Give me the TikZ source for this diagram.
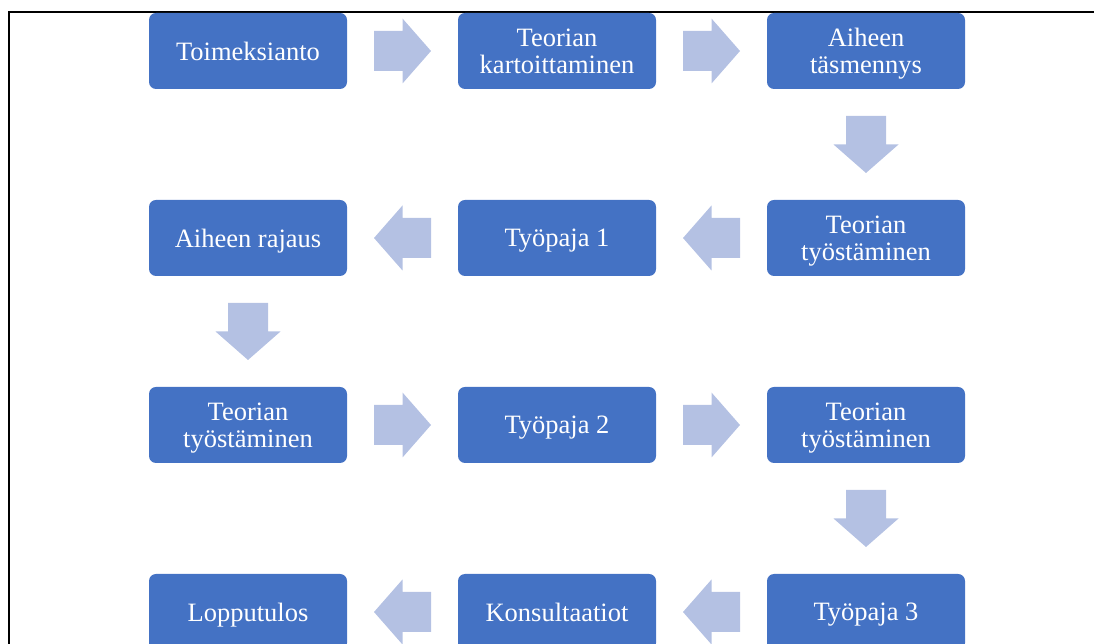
\documentclass[tikz,border=0pt]{standalone}
\usepackage{fontspec}
\setmainfont{Liberation Serif}
\usetikzlibrary{calc}
\definecolor{stepblue}{RGB}{68,114,196}
\definecolor{flowtint}{RGB}{180,193,227}
\tikzset{
  stepbox/.style={fill=stepblue, draw=none, rounded corners=7pt,
    minimum width=198pt, minimum height=76pt, inner sep=0pt,
    text=white, align=center, text depth=0pt,
    font=\fontsize{26.5}{27}\selectfont},
  % block arrow centred on its position, pointing right before rotation
  pics/blockarrow/.style={code={
    \fill[flowtint] (-28.5,-20) -- (0,-20) -- (0,-32.5) -- (28.5,0)
      -- (0,32.5) -- (0,20) -- (-28.5,20) -- cycle;}},
}
\begin{document}
\begin{tikzpicture}[x=1pt,y=1pt]
\useasboundingbox (0,0) rectangle (1094,644);
\clip (0,0) rectangle (1094,644);
% outer frame (top and left edges)
\draw[line width=2pt, black] (9,-5) -- (9,632) -- (1100,632);

% process steps, row by row
\node[stepbox] (s1)  at (248,593) {Toimeksianto};
\node[stepbox] (s2)  at (557,593) {Teorian\\kartoittaminen};
\node[stepbox] (s3)  at (866,593) {Aiheen\\täsmennys};
\node[stepbox] (s4)  at (866,406) {Teorian\\työstäminen};
\node[stepbox] (s5)  at (557,406) {Työpaja 1};
\node[stepbox] (s6)  at (248,406) {Aiheen rajaus};
\node[stepbox] (s7)  at (248,219) {Teorian\\työstäminen};
\node[stepbox] (s8)  at (557,219) {Työpaja 2};
\node[stepbox] (s9)  at (866,219) {Teorian\\työstäminen};
\node[stepbox] (s10) at (866,32)  {Työpaja 3};
\node[stepbox] (s11) at (557,32)  {Konsultaatiot};
\node[stepbox] (s12) at (248,32)  {Lopputulos};

% block arrows between consecutive steps
\pic[rotate=0]   at ($(s1)!0.5!(s2)$)   {blockarrow};
\pic[rotate=0]   at ($(s2)!0.5!(s3)$)   {blockarrow};
\pic[rotate=270] at ($(s3)!0.5!(s4)$)   {blockarrow};
\pic[rotate=180] at ($(s4)!0.5!(s5)$)   {blockarrow};
\pic[rotate=180] at ($(s5)!0.5!(s6)$)   {blockarrow};
\pic[rotate=270] at ($(s6)!0.5!(s7)$)   {blockarrow};
\pic[rotate=0]   at ($(s7)!0.5!(s8)$)   {blockarrow};
\pic[rotate=0]   at ($(s8)!0.5!(s9)$)   {blockarrow};
\pic[rotate=270] at ($(s9)!0.5!(s10)$)  {blockarrow};
\pic[rotate=180] at ($(s10)!0.5!(s11)$) {blockarrow};
\pic[rotate=180] at ($(s11)!0.5!(s12)$) {blockarrow};
\end{tikzpicture}
\end{document}
